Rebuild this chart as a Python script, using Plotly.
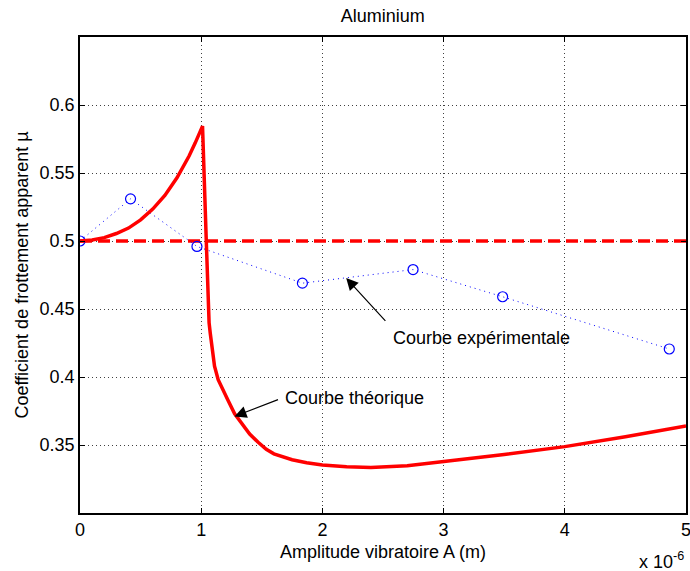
import plotly.graph_objects as go

# Theoretical curve (x in units of 1e-6 m)
theo_x = [0, 0.1, 0.2, 0.3, 0.4, 0.5, 0.6, 0.7, 0.8, 0.9, 0.95, 1.0, 1.011,
          1.042, 1.05, 1.056, 1.065, 1.075, 1.09, 1.11, 1.14, 1.18, 1.22, 1.276, 1.33,
          1.4, 1.47, 1.537, 1.6, 1.68, 1.75, 1.87, 2.0, 2.2, 2.4, 2.7, 3.0, 3.5, 4.0, 4.5, 5.0]
theo_y = [0.5, 0.5007, 0.5025, 0.5055, 0.5095, 0.5155, 0.5235, 0.5335, 0.5465, 0.5625, 0.572, 0.582, 0.5845,
          0.50, 0.47, 0.452, 0.44, 0.432, 0.42, 0.408, 0.398, 0.390, 0.383, 0.373, 0.366,
          0.358, 0.352, 0.3468, 0.3435, 0.341, 0.3392, 0.337, 0.3353, 0.334, 0.3335, 0.3347, 0.3377, 0.343, 0.3488, 0.356, 0.364]

# Experimental points
exp_x = [0, 0.417, 0.965, 1.835, 2.748, 3.487, 4.862]
exp_y = [0.5, 0.531, 0.496, 0.469, 0.479, 0.459, 0.4206]

# Reference level
ref_x = [0, 5]
ref_y = [0.5, 0.5]

x_ticks = [0, 1, 2, 3, 4, 5]
y_ticks = [0.35, 0.4, 0.45, 0.5, 0.55, 0.6]
y_tick_labels = ["0.35", "0.4", "0.45", "0.5", "0.55", "0.6"]

FONT = "Liberation Sans, Arial, sans-serif"

fig = go.Figure()
fig.add_trace(go.Scatter(x=ref_x, y=ref_y, mode="lines",
                         line=dict(color="#ff0000", width=3.5, dash="12px,6px"),
                         showlegend=False, hoverinfo="skip"))
fig.add_trace(go.Scatter(x=exp_x, y=exp_y, mode="lines+markers",
                         line=dict(color="#0000ff", width=1, dash="1px,4px"),
                         marker=dict(symbol="circle-open", size=10, color="#0000ff",
                                     line=dict(width=1.2, color="#0000ff")),
                         showlegend=False))
fig.add_trace(go.Scatter(x=theo_x, y=theo_y, mode="lines",
                         line=dict(color="#ff0000", width=3.5),
                         showlegend=False))

axis_common = dict(showline=True, linecolor="black", linewidth=1.5, mirror="ticks",
                   ticks="inside", ticklen=5, tickwidth=1, tickcolor="black",
                   showgrid=True, gridcolor="rgba(0,0,0,0.75)", griddash="1px,3px", gridwidth=1,
                   zeroline=False, automargin=False, ticklabeloverflow="allow",
                   tickfont=dict(family=FONT, size=18, color="black"))

fig.update_xaxes(range=[0, 5], tickvals=x_ticks, ticktext=[str(t) for t in x_ticks],
                 title=dict(text="Amplitude vibratoire A (m)", font=dict(family=FONT, size=18, color="black"),
                            standoff=6),
                 **axis_common)
fig.update_yaxes(range=[0.3, 0.65], tickvals=y_ticks, ticktext=y_tick_labels,
                 title=dict(text="Coefficient de frottement apparent µ", font=dict(family=FONT, size=18, color="black"),
                            standoff=6),
                 **axis_common)

annotations = [
    dict(x=2.196, y=0.4728, ax=2.531, ay=0.4401, xref="x", yref="y", axref="x", ayref="y",
         text="", showarrow=True, arrowhead=2, arrowsize=2, arrowwidth=1.2, arrowcolor="black"),
    dict(x=1.275, y=0.371, ax=1.646, ay=0.3838, xref="x", yref="y", axref="x", ayref="y",
         text="", showarrow=True, arrowhead=2, arrowsize=2, arrowwidth=1.2, arrowcolor="black"),
    dict(x=2.564, y=0.4286, xref="x", yref="y", text="Courbe expérimentale", showarrow=False,
         xanchor="left", yanchor="middle", font=dict(family=FONT, size=18, color="black")),
    dict(x=1.671, y=0.3848, xref="x", yref="y", text="Courbe théorique", showarrow=False,
         xanchor="left", yanchor="middle", font=dict(family=FONT, size=18, color="black")),
    dict(x=1.0, y=0.0, xref="paper", yref="paper", yshift=-47, text="x 10<sup>-6</sup>",
         showarrow=False, xanchor="right", yanchor="middle",
         font=dict(family=FONT, size=18, color="black")),
]

fig.update_layout(
    width=690, height=571,
    margin=dict(l=80, r=4, t=37, b=58),
    paper_bgcolor="white", plot_bgcolor="white",
    title=dict(text="Aluminium", x=0.5547, xanchor="center", y=0.972, yanchor="middle",
               font=dict(family=FONT, size=18, color="black")),
    annotations=annotations,
    showlegend=False,
)

fig.write_html("out.html", config={"displayModeBar": False},
               post_script="document.body.style.margin='0px';document.body.style.overflow='hidden';")
